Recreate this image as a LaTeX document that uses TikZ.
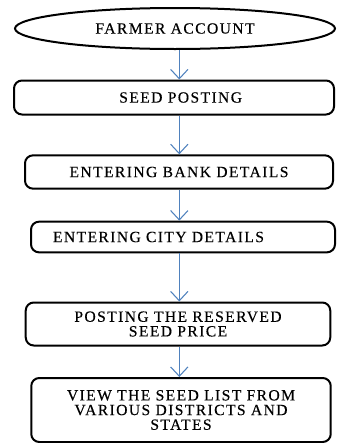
\documentclass[tikz,border=0pt]{standalone}
\usepackage{fontspec}
\setmainfont{Liberation Serif}
\newfontfamily\flowfont[LetterSpace=9,FakeBold=0.3]{Liberation Serif}
\usepackage{xcolor}
\usetikzlibrary{positioning,calc,arrows.meta,shapes.geometric}

\definecolor{flowblue}{HTML}{4F81BD}

\begin{document}
\begin{tikzpicture}[x=0.75pt,y=-0.75pt,
		stepbox/.style={draw,line width=1.5pt,rounded corners=6pt,font=\flowfont\fontsize{11.7}{11}\selectfont,align=center,inner sep=0pt},
		flow/.style={draw=flowblue,line width=0.8pt,-{Straight Barb[length=7pt,width=13pt]}}]
			\useasboundingbox (0,0) rectangle (336,443);
			
			\node[ellipse,draw,line width=1.5pt,font=\flowfont\fontsize{11.7}{11}\selectfont,minimum width=240pt,minimum height=30.75pt,inner sep=0pt] (acct) at (175,28.5) {FARMER ACCOUNT};
			
			\node[stepbox,minimum width=240pt,minimum height=25.5pt] (seed) at (174,97.5) {\hspace*{10pt}SEED POSTING};
			\node[stepbox,minimum width=231pt,minimum height=25pt] (bank) at (179,172) {ENTERING BANK DETAILS};
			\node[stepbox,text width=195pt,inner xsep=16.5pt,align=left,minimum height=23pt] (city) at (183,237) {ENTERING CITY DETAILS};
			\node[stepbox,minimum width=228.4pt,minimum height=32.25pt] (price) at (178,324) {POSTING THE RESERVED\\SEED PRICE};
			\node[stepbox,minimum width=224.6pt,minimum height=48pt] (view) at (181,410) {VIEW THE SEED LIST FROM\\VARIOUS DISTRICTS AND\\STATES};
			
			\coordinate (axis) at (179.3,0);
			
			\draw[flow] (acct.south -| axis) -- (seed.north -| axis);
			\draw[flow] (seed.south -| axis) -- (bank.north -| axis);
			\draw[flow] (bank.south -| axis) -- (city.north -| axis);
			\draw[flow] (city.south -| axis) -- (price.north -| axis);
			\draw[flow] (price.south -| axis) -- (view.north -| axis);
		\end{tikzpicture}
\end{document}
